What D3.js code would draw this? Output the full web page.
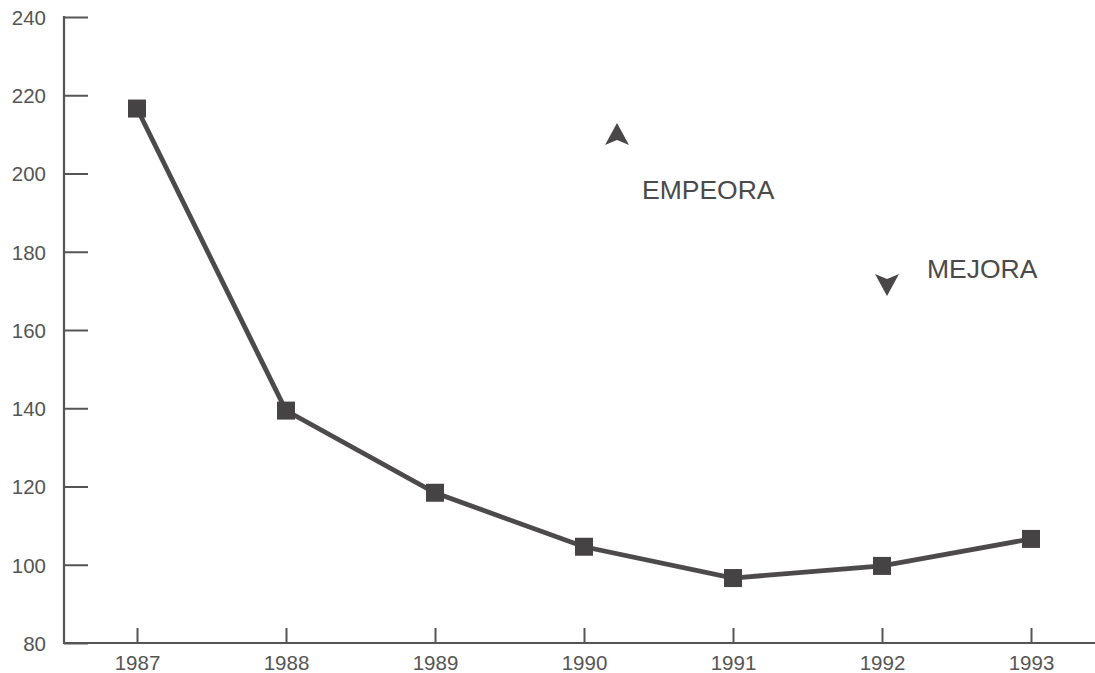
<!DOCTYPE html>
<html><head><meta charset="utf-8">
<script src="https://cdn.jsdelivr.net/npm/d3@7"></script>
<style>body{margin:0;background:#fff}svg{display:block}text{font-family:"Liberation Sans",Arial,sans-serif;fill:#555}</style>
</head><body>
<script>
const years = ["1987","1988","1989","1990","1991","1992","1993"];
const values = [216.6, 139.4, 118.4, 104.6, 96.6, 99.7, 106.6];
const yTicks = [80,100,120,140,160,180,200,220,240];
const annotations = [{text:"EMPEORA", dir:"up"},{text:"MEJORA", dir:"down"}];

const W=1095,H=673;
const svg=d3.select("body").append("svg").attr("width",W).attr("height",H);
const x0=64, yBase=643;
const x=d3.scalePoint().domain(years).range([137,1031]);
const y=d3.scaleLinear().domain([80,240]).range([643,17]);
const col="#555";

// y axis
const ya=d3.axisRight(y).tickValues(yTicks).tickSize(24).tickFormat(d=>d);
const gy=svg.append("g").attr("transform",`translate(${x0},0)`).call(ya);
gy.select(".domain").remove();
gy.selectAll(".tick line").attr("stroke",col).attr("stroke-width",2);
gy.selectAll(".tick text").attr("x",-18).attr("dy","0.36em").attr("text-anchor","end").attr("font-size",20.5).style("fill",col);
svg.append("line").attr("x1",x0).attr("x2",x0).attr("y1",y(240)-1).attr("y2",yBase).attr("stroke",col).attr("stroke-width",2.2);

// x axis
const xa=d3.axisTop(x).tickSize(15).tickFormat(d=>d);
const gx=svg.append("g").attr("transform",`translate(0,${yBase})`).call(xa);
gx.select(".domain").remove();
gx.selectAll(".tick line").attr("stroke",col).attr("stroke-width",2);
gx.selectAll(".tick text").attr("y",27).attr("dy","0").attr("font-size",20.5).style("fill",col).attr("text-anchor","middle");
svg.append("line").attr("x1",x0-1).attr("x2",W).attr("y1",yBase).attr("y2",yBase).attr("stroke",col).attr("stroke-width",2.2);

// line
const data=years.map((d,i)=>({year:d,v:values[i]}));
svg.append("path").datum(data).attr("fill","none").attr("stroke","#4d4a4b").attr("stroke-width",4.8)
 .attr("d",d3.line().x(d=>x(d.year)).y(d=>y(d.v)));
svg.selectAll("rect.m").data(data).join("rect").attr("class","m")
 .attr("x",d=>x(d.year)-9).attr("y",d=>y(d.v)-9).attr("width",18).attr("height",18).attr("fill","#464344");

// annotations
function arrow(cx,cy,up){
  const s=up?1:-1;
  const p=`M${cx},${cy-11*s} L${cx+12},${cy+11*s} L${cx},${cy+6*s} L${cx-12},${cy+11*s} Z`;
  svg.append("path").attr("d",p).attr("fill","#4a4748");
}
arrow(617,134,true);
svg.append("text").attr("x",642).attr("y",199).text(annotations[0].text).attr("font-size",26.5).style("fill","#4a4a4a");
arrow(887,285,false);
svg.append("text").attr("x",927).attr("y",278).text(annotations[1].text).attr("font-size",26.5).style("fill","#4a4a4a");
</script>
</body></html>
